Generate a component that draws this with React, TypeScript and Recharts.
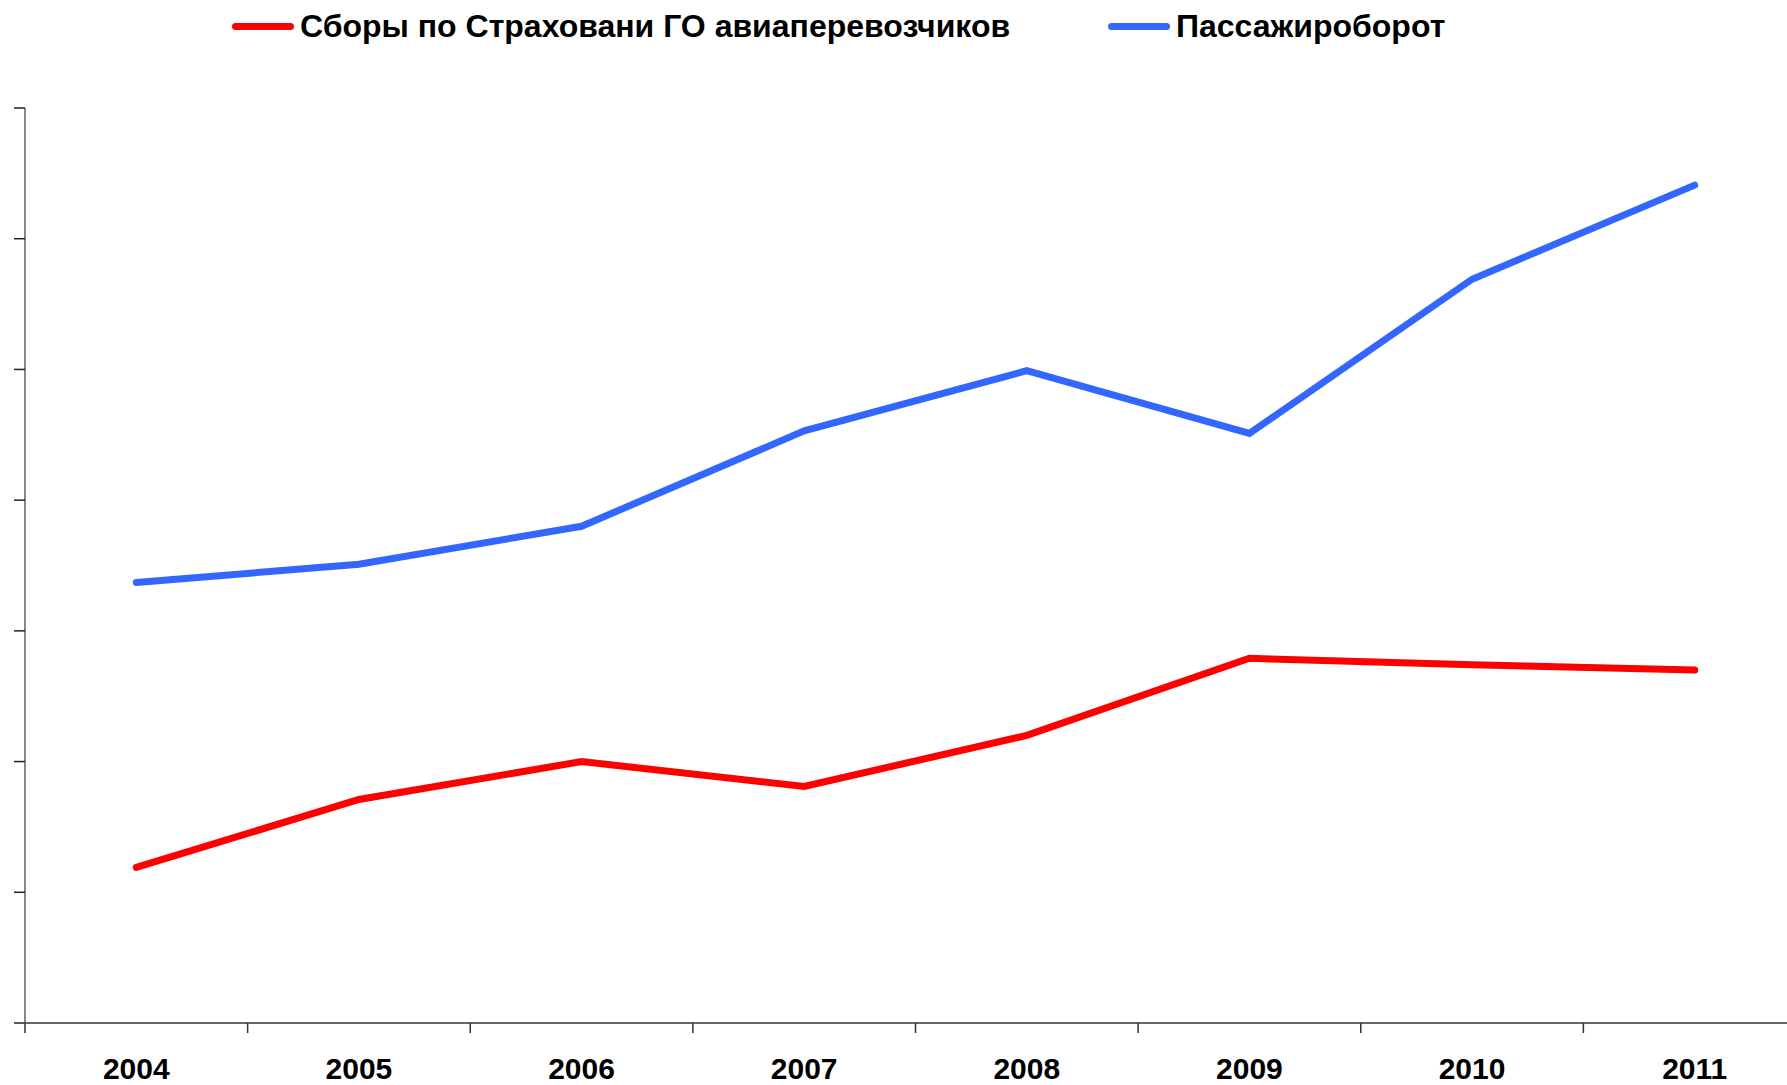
import React from 'react';
import { LineChart, Line, XAxis, YAxis, Legend } from 'recharts';

const years = ['2004', '2005', '2006', '2007', '2008', '2009', '2010', '2011'];
const premiums = [1.19, 1.71, 2.0, 1.81, 2.2, 2.79, 2.74, 2.7];
const traffic = [3.37, 3.51, 3.8, 4.53, 4.99, 4.51, 5.69, 6.41];
const yTicks = [0, 1, 2, 3, 4, 5, 6, 7];

const SERIES = [
  { key: 'premiums', name: 'Сборы по Страховани ГО авиаперевозчиков', color: '#FF0000', left: 232 },
  { key: 'traffic', name: 'Пассажироборот', color: '#3366FF', left: 1108 }
];

const data = years.map((year, i) => ({ year, premiums: premiums[i], traffic: traffic[i] }));

const FONT = '"Liberation Sans", Arial, sans-serif';
const CHART_W = 1806;
const CHART_H = 1085;
const Y_AXIS_W = 25;
const MARGIN = { top: 58, right: 0, left: 0, bottom: 0 };
const BAND = (CHART_W - Y_AXIS_W - MARGIN.left - MARGIN.right) / years.length;
const TICK_SIZE = 10;
const TICK_MARGIN = 25;

// label in the middle of the band, tick mark on the band's left edge
const YearTick = ({ x, y, payload }: any) => {
  const edge = x - BAND / 2;
  const axisY = y - TICK_SIZE - TICK_MARGIN;
  return (
    <g>
      <line x1={edge} x2={edge} y1={axisY} y2={axisY + TICK_SIZE} stroke="#333" strokeWidth={1.5} />
      <text x={x} y={y} dy="0.71em" textAnchor="middle" fontSize={30} fontWeight="bold" fill="#000" fontFamily={FONT}>
        {payload.value}
      </text>
    </g>
  );
};

const NoLabel = () => <g />;

const renderLegend = () => (
  <div style={{ position: 'relative', height: 50, width: CHART_W, fontFamily: FONT }}>
    {SERIES.map((s) => (
      <div
        key={s.key}
        style={{ position: 'absolute', left: s.left, top: 1, height: 50, display: 'flex', alignItems: 'center' }}
      >
        <span style={{ display: 'inline-block', width: 62, height: 7, borderRadius: 3.5, background: s.color, marginRight: 6 }} />
        <span style={{ fontSize: 32, fontWeight: 'bold', color: '#000', whiteSpace: 'nowrap' }}>{s.name}</span>
      </div>
    ))}
  </div>
);

export default function App() {
  return (
    <div style={{ position: 'fixed', left: 0, top: 0, width: 1787, height: 1085, overflow: 'hidden', background: '#fff' }}>
      <LineChart width={CHART_W} height={CHART_H} data={data} margin={MARGIN}>
        <XAxis
          dataKey="year"
          scale="band"
          interval={0}
          height={62}
          tickSize={TICK_SIZE}
          tickMargin={TICK_MARGIN}
          tickLine={false}
          axisLine={{ stroke: '#333', strokeWidth: 1.5 }}
          tick={<YearTick />}
        />
        <YAxis
          domain={[0, 7]}
          ticks={yTicks}
          interval={0}
          width={Y_AXIS_W}
          tick={<NoLabel />}
          tickSize={11}
          tickLine={{ stroke: '#222', strokeWidth: 1.5 }}
          axisLine={{ stroke: '#888', strokeWidth: 2 }}
        />
        <Legend verticalAlign="top" content={renderLegend} wrapperStyle={{ top: 0, left: 0 }} />
        {SERIES.map((s) => (
          <Line
            key={s.key}
            dataKey={s.key}
            name={s.name}
            stroke={s.color}
            strokeWidth={7}
            strokeLinecap="round"
            dot={false}
            activeDot={false}
            isAnimationActive={false}
          />
        ))}
      </LineChart>
    </div>
  );
}
